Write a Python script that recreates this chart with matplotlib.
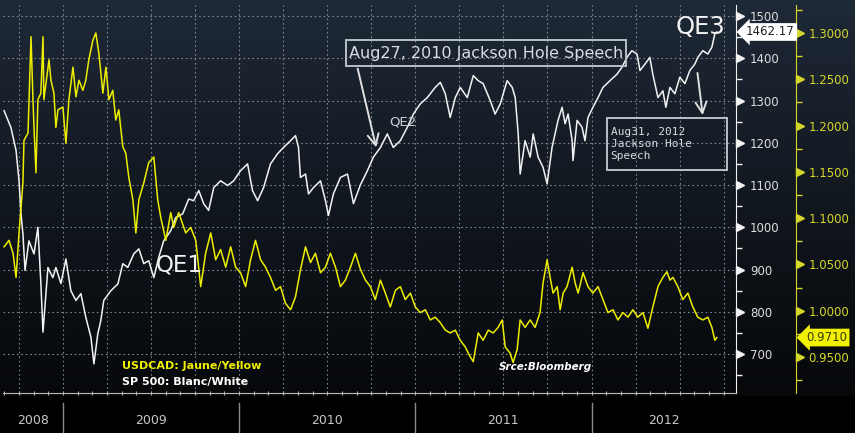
import numpy as np
import matplotlib.pyplot as plt
import matplotlib.transforms as mtransforms
from matplotlib.ticker import MultipleLocator, FixedLocator
from matplotlib.patches import Rectangle
from matplotlib import font_manager

# ---- data (decimal years) ----
spx_t = [2008.666, 2008.705, 2008.734, 2008.751, 2008.762, 2008.773, 2008.785, 2008.807, 2008.836, 2008.858,
         2008.875, 2008.887, 2008.915, 2008.943, 2008.960, 2008.989, 2009.017, 2009.045, 2009.074, 2009.102,
         2009.130, 2009.159, 2009.176, 2009.198, 2009.215, 2009.232, 2009.272, 2009.312, 2009.340, 2009.368,
         2009.402, 2009.431, 2009.459, 2009.487, 2009.516, 2009.544, 2009.572, 2009.612, 2009.640, 2009.680,
         2009.714, 2009.742, 2009.771, 2009.799, 2009.827, 2009.856, 2009.895, 2009.935, 2009.969, 2010.008,
         2010.048, 2010.076, 2010.105, 2010.139, 2010.178, 2010.218, 2010.252, 2010.292, 2010.320, 2010.337,
         2010.348, 2010.377, 2010.394, 2010.422, 2010.462, 2010.490, 2010.507, 2010.535, 2010.575, 2010.615,
         2010.649, 2010.688, 2010.728, 2010.762, 2010.802, 2010.841, 2010.875, 2010.915, 2010.955, 2010.989,
         2011.028, 2011.068, 2011.113, 2011.142, 2011.170, 2011.198, 2011.227, 2011.255, 2011.295, 2011.329,
         2011.357, 2011.385, 2011.425, 2011.453, 2011.482, 2011.521, 2011.550, 2011.567, 2011.584, 2011.595,
         2011.623, 2011.652, 2011.669, 2011.697, 2011.725, 2011.748, 2011.776, 2011.793, 2011.810, 2011.833,
         2011.850, 2011.867, 2011.890, 2011.895, 2011.918, 2011.946, 2011.963, 2011.980, 2012.008, 2012.037,
         2012.065, 2012.105, 2012.144, 2012.173, 2012.201, 2012.229, 2012.258, 2012.275, 2012.303, 2012.331,
         2012.348, 2012.377, 2012.405, 2012.422, 2012.445, 2012.473, 2012.501, 2012.530, 2012.558, 2012.586,
         2012.603, 2012.632, 2012.660, 2012.683, 2012.700, 2012.711]
spx = [1276, 1236, 1182, 1110, 1032, 985, 898, 968, 937, 1000,
       867, 752, 905, 881, 905, 867, 925, 850, 827, 843,
       787, 740, 677, 748, 779, 827, 850, 866, 914, 905,
       937, 949, 914, 921, 881, 929, 968, 992, 1023, 1032,
       1067, 1063, 1087, 1056, 1040, 1094, 1110, 1099, 1110, 1134,
       1150, 1087, 1063, 1094, 1150, 1174, 1189, 1205, 1217, 1189,
       1118, 1126, 1079, 1094, 1110, 1063, 1028, 1079, 1118, 1126,
       1056, 1100, 1134, 1166, 1189, 1221, 1189, 1205, 1237, 1268,
       1292, 1307, 1331, 1343, 1316, 1260, 1307, 1331, 1307, 1359,
       1347, 1340, 1300, 1268, 1292, 1347, 1331, 1307, 1221, 1126,
       1205, 1166, 1221, 1166, 1142, 1103, 1189, 1221, 1253, 1284,
       1245, 1268, 1205, 1158, 1253, 1237, 1205, 1260, 1284, 1307,
       1331, 1347, 1362, 1379, 1402, 1418, 1410, 1371, 1386, 1402,
       1362, 1307, 1323, 1284, 1331, 1316, 1355, 1340, 1371, 1386,
       1402, 1418, 1410, 1426, 1458, 1462.17]

cad_t = [2008.666, 2008.694, 2008.717, 2008.734, 2008.751, 2008.773, 2008.779, 2008.802, 2008.819, 2008.830,
         2008.836, 2008.847, 2008.858, 2008.875, 2008.887, 2008.892, 2008.921, 2008.932, 2008.949, 2008.960,
         2008.972, 2009.000, 2009.017, 2009.034, 2009.057, 2009.074, 2009.091, 2009.113, 2009.130, 2009.147,
         2009.170, 2009.187, 2009.204, 2009.227, 2009.244, 2009.261, 2009.283, 2009.300, 2009.317, 2009.340,
         2009.357, 2009.374, 2009.397, 2009.414, 2009.431, 2009.459, 2009.487, 2009.516, 2009.538, 2009.555,
         2009.584, 2009.612, 2009.629, 2009.657, 2009.697, 2009.725, 2009.754, 2009.782, 2009.810, 2009.839,
         2009.867, 2009.895, 2009.924, 2009.952, 2009.980, 2010.008, 2010.037, 2010.065, 2010.093, 2010.122,
         2010.150, 2010.178, 2010.207, 2010.235, 2010.263, 2010.292, 2010.320, 2010.348, 2010.377, 2010.405,
         2010.433, 2010.462, 2010.490, 2010.518, 2010.547, 2010.575, 2010.603, 2010.632, 2010.660, 2010.688,
         2010.717, 2010.745, 2010.773, 2010.802, 2010.830, 2010.858, 2010.887, 2010.915, 2010.943, 2010.972,
         2011.000, 2011.028, 2011.057, 2011.085, 2011.113, 2011.142, 2011.170, 2011.198, 2011.227, 2011.255,
         2011.283, 2011.312, 2011.329, 2011.357, 2011.385, 2011.414, 2011.442, 2011.470, 2011.493, 2011.510,
         2011.538, 2011.555, 2011.578, 2011.595, 2011.623, 2011.652, 2011.680, 2011.708, 2011.725, 2011.748,
         2011.765, 2011.782, 2011.805, 2011.822, 2011.839, 2011.861, 2011.890, 2011.907, 2011.924, 2011.952,
         2011.980, 2012.008, 2012.037, 2012.065, 2012.093, 2012.122, 2012.150, 2012.178, 2012.207, 2012.235,
         2012.263, 2012.292, 2012.320, 2012.348, 2012.377, 2012.405, 2012.428, 2012.445, 2012.462, 2012.490,
         2012.518, 2012.547, 2012.575, 2012.603, 2012.632, 2012.660, 2012.683, 2012.700, 2012.711]
cad = [1.069, 1.076, 1.062, 1.036, 1.084, 1.138, 1.184, 1.192, 1.296, 1.228,
       1.198, 1.149, 1.228, 1.235, 1.296, 1.228, 1.271, 1.249, 1.235, 1.198,
       1.217, 1.220, 1.181, 1.228, 1.263, 1.231, 1.249, 1.238, 1.249, 1.271,
       1.292, 1.300, 1.278, 1.235, 1.263, 1.228, 1.238, 1.206, 1.217, 1.177,
       1.170, 1.144, 1.120, 1.084, 1.120, 1.138, 1.160, 1.166, 1.120, 1.101,
       1.076, 1.106, 1.090, 1.106, 1.084, 1.090, 1.076, 1.026, 1.062, 1.084,
       1.055, 1.066, 1.047, 1.069, 1.047, 1.041, 1.026, 1.055, 1.076, 1.055,
       1.047, 1.036, 1.022, 1.026, 1.008, 1.001, 1.015, 1.044, 1.069, 1.052,
       1.062, 1.041, 1.047, 1.062, 1.047, 1.026, 1.033, 1.047, 1.062, 1.045,
       1.033, 1.026, 1.012, 1.033, 1.019, 1.004, 1.022, 1.026, 1.012, 1.019,
       1.004, 0.998, 1.001, 0.990, 0.993, 0.987, 0.979, 0.976, 0.979, 0.968,
       0.961, 0.950, 0.945, 0.976, 0.968, 0.979, 0.976, 0.982, 0.990, 0.961,
       0.954, 0.944, 0.958, 0.990, 0.982, 0.990, 0.982, 0.998, 1.030, 1.055,
       1.036, 1.019, 1.026, 1.001, 1.019, 1.026, 1.047, 1.030, 1.019, 1.041,
       1.026, 1.019, 1.026, 1.012, 0.998, 1.001, 0.990, 0.998, 0.993, 1.001,
       0.993, 0.998, 0.981, 1.004, 1.026, 1.036, 1.042, 1.033, 1.036, 1.026,
       1.012, 1.019, 1.004, 0.993, 0.990, 0.993, 0.982, 0.968, 0.971]

years = ['2008', '2009', '2010', '2011', '2012']
year_starts = [2009, 2010, 2011, 2012]
spx_ticks = [700, 800, 900, 1000, 1100, 1200, 1300, 1400, 1500]
cad_ticks = [0.95, 1.00, 1.05, 1.10, 1.15, 1.20, 1.25, 1.30]
spx_last = 1462.17
cad_last = 0.9710

WHITE = '#f2f2f2'
YELLOW = '#eded00'
YLAB = '#d6d62a'
GRIDC = '#7c858e'

names = {f.name for f in font_manager.fontManager.ttflist}
narrow = 'Liberation Sans Narrow' if 'Liberation Sans Narrow' in names else 'DejaVu Sans'

fig = plt.figure(figsize=(8.55, 4.33), dpi=100)
fig.patch.set_facecolor('black')

# background gradient, navy at top fading to black
bg = fig.add_axes([0, 0, 1, 1], zorder=-5)
bg.axis('off')
rows = np.linspace(0, 1, 433)
top = np.array([31, 42, 56]) / 255
bot = np.array([4, 5, 6]) / 255
grad = top + (bot - top) * rows[:, None] ** 0.9
grad[396:] = 0
bg.imshow(grad[:, None, :], aspect='auto', extent=[0, 1, 0, 1])
bg.set_xlim(0, 1)
bg.set_ylim(0, 1)

ax = fig.add_axes([3 / 855, 40 / 433, 733 / 855, 388 / 433])
ax.patch.set_visible(False)
ax.set_xlim(2008.66, 2012.82)
ax.set_ylim(608, 1526)
ax.plot(spx_t, spx, color=WHITE, lw=1.1, zorder=3)

# USDCAD on the outer right axis (twinx moves ax ticks to the left, so set ax ticks after)
ax2 = ax.twinx()
ax2.set_ylim(0.9111, 1.3302)
ax2.plot(cad_t, cad, color=YELLOW, lw=1.1, zorder=3)

# grid: horizontal at S&P ticks, vertical at quarters
ax.yaxis.set_major_locator(FixedLocator(spx_ticks))
ax.yaxis.set_minor_locator(MultipleLocator(50))
ax.xaxis.set_major_locator(MultipleLocator(0.25))
ax.xaxis.set_minor_locator(MultipleLocator(1 / 12))
ax.grid(True, which='major', color=GRIDC, lw=0.8, ls=(0, (1.5, 2.5)))
ax.tick_params(axis='y', which='both', left=False, labelleft=False, right=True, labelright=True)
ax.tick_params(axis='y', which='major', length=0, pad=10, labelsize=8.5, labelcolor='#dcdcdc',
               labelfontfamily=narrow)
ax.tick_params(axis='y', which='minor', length=4, width=1, color=WHITE, direction='out')
ax.tick_params(axis='x', which='both', length=3, width=0.8, color='#b0b0b0', direction='inout',
               labelbottom=False)

for s in ['top', 'left']:
    ax.spines[s].set_visible(False)
ax.spines['right'].set_color(WHITE)
ax.spines['bottom'].set_color('#b8b8b8')

blend = mtransforms.blended_transform_factory(ax.transAxes, ax.transData)
tri = mtransforms.offset_copy(blend, fig=fig, x=4, y=0, units='dots')
ax.plot([1.0] * len(spx_ticks), spx_ticks, ls='none', marker='>', ms=6, color=WHITE,
        transform=tri, clip_on=False)

# year band at bottom
xblend = mtransforms.blended_transform_factory(ax.transData, ax.transAxes)
for ys in year_starts:
    ax.plot([ys, ys], [-0.026, -0.103], color='#8a8a8a', lw=1, transform=xblend, clip_on=False)
edges = [ax.get_xlim()[0]] + year_starts + [ax.get_xlim()[1]]
for i, y in enumerate(years):
    ax.text((edges[i] + edges[i + 1]) / 2, -0.072, y, transform=xblend, ha='center', va='center',
            color='#c8c8c8', fontsize=9, family=narrow)

for s in ['top', 'left', 'bottom']:
    ax2.spines[s].set_visible(False)
ax2.spines['right'].set_position(('axes', 1.082))
ax2.spines['right'].set_color(YLAB)
ax2.yaxis.set_major_locator(FixedLocator(cad_ticks))
ax2.yaxis.set_minor_locator(MultipleLocator(0.025))
ax2.yaxis.set_major_formatter(plt.FormatStrFormatter('%.4f'))
ax2.tick_params(axis='y', which='major', length=0, pad=9, labelsize=8.5, labelcolor=YLAB,
                labelfontfamily=narrow)
ax2.tick_params(axis='y', which='minor', length=4, width=1, color=YLAB, direction='out')
blend2 = mtransforms.blended_transform_factory(ax2.transAxes, ax2.transData)
tri2 = mtransforms.offset_copy(blend2, fig=fig, x=4, y=0, units='dots')
ax2.plot([1.082] * len(cad_ticks), cad_ticks, ls='none', marker='>', ms=6, color=YLAB,
         transform=tri2, clip_on=False)

# last value tags
tag1 = mtransforms.offset_copy(blend, fig=fig, x=10, y=0, units='dots')
ax2.text(1.0, spx_last, '%.2f' % spx_last, transform=tag1, ha='left', va='center', fontsize=8.5,
         color='#202020', family=narrow, zorder=6,
         bbox=dict(boxstyle='larrow,pad=0.2', fc='white', ec='none'))
tag2 = mtransforms.offset_copy(blend2, fig=fig, x=10, y=0, units='dots')
ax2.text(1.082, cad_last, '%.4f' % cad_last, transform=tag2, ha='left', va='center', fontsize=8.5,
         color='#3a3a10', family=narrow, zorder=6,
         bbox=dict(boxstyle='larrow,pad=0.2', fc='#f0f000', ec='none'))

# annotations
ax2.add_patch(Rectangle((0.468, 0.843), 0.382, 0.067, transform=ax.transAxes, fill=False,
                        ec='#b8c0c8', lw=1.4, zorder=5))
ax2.text(0.659, 0.876, 'Aug27, 2010 Jackson Hole Speech', transform=ax.transAxes, ha='center',
         va='center', color='#d8dde2', fontsize=11.5, zorder=5)
ax2.annotate('', xy=(0.510, 0.626), xytext=(0.483, 0.843), xycoords=ax.transAxes,
             textcoords=ax.transAxes,
             arrowprops=dict(arrowstyle='->,head_length=0.8,head_width=0.4', color='#e0e0e0', lw=1.4))
ax2.text(0.546, 0.698, 'QE2', transform=ax.transAxes, ha='center', va='center', color='#c8d0d8',
         fontsize=9.5)
ax2.text(0.240, 0.330, 'QE1', transform=ax.transAxes, ha='center', va='center', color=WHITE,
         fontsize=16.5, family=narrow)
ax2.text(0.951, 0.944, 'QE3', transform=ax.transAxes, ha='center', va='center', color=WHITE,
         fontsize=17.5, family=narrow)

ax2.add_patch(Rectangle((0.824, 0.575), 0.164, 0.134, transform=ax.transAxes, fill=False,
                        ec='#b8c0c8', lw=1.4, zorder=5))
ax2.text(0.829, 0.642, 'Aug31, 2012\nJackson Hole\nSpeech', transform=ax.transAxes, ha='left',
         va='center', color='#d8dde2', fontsize=8, family='DejaVu Sans Mono', linespacing=1.2,
         zorder=5)
ax2.annotate('', xy=(0.955, 0.709), xytext=(0.947, 0.832), xycoords=ax.transAxes,
             textcoords=ax.transAxes,
             arrowprops=dict(arrowstyle='->,head_length=0.8,head_width=0.4', color='#e0e0e0', lw=1.4))

ax2.text(0.162, 0.070, 'USDCAD: Jaune/Yellow', transform=ax.transAxes, ha='left', va='center',
         color='#f0f000', fontsize=8, fontweight='bold')
ax2.text(0.162, 0.028, 'SP 500: Blanc/White', transform=ax.transAxes, ha='left', va='center',
         color='white', fontsize=8, fontweight='bold')
ax2.text(0.677, 0.067, 'Srce:Bloomberg', transform=ax.transAxes, ha='left', va='center',
         color='white', fontsize=7.5, fontstyle='italic', fontweight='bold')

fig.savefig('out.png', dpi=100, facecolor=fig.get_facecolor())
